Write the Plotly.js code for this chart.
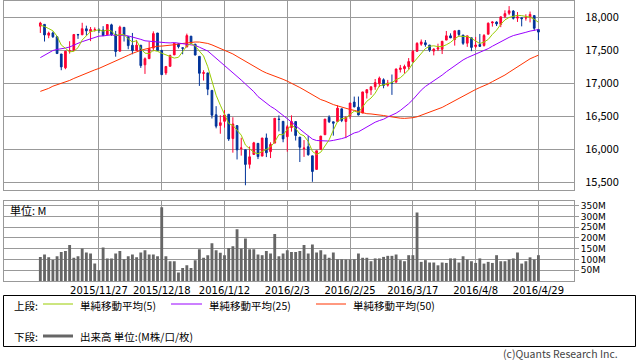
<!DOCTYPE html>
<html>
<head>
<meta charset="utf-8">
<script src="https://cdn.plot.ly/plotly-3.0.1.min.js"></script>
<style>
html,body{margin:0;padding:0;background:#fff;}
#chart{width:638px;height:362px;}
</style>
</head>
<body>
<div id="chart"></div>
<script>
// ---- data ----
const dates = [
"2015/11/6","2015/11/9","2015/11/10","2015/11/11","2015/11/12","2015/11/13","2015/11/16","2015/11/17","2015/11/18","2015/11/19",
"2015/11/20","2015/11/23","2015/11/24","2015/11/25","2015/11/27","2015/11/30","2015/12/1","2015/12/2","2015/12/3","2015/12/4",
"2015/12/7","2015/12/8","2015/12/9","2015/12/10","2015/12/11","2015/12/14","2015/12/15","2015/12/16","2015/12/17","2015/12/18",
"2015/12/21","2015/12/22","2015/12/23","2015/12/24","2015/12/28","2015/12/29","2015/12/30","2015/12/31","2016/1/4","2016/1/5",
"2016/1/6","2016/1/7","2016/1/8","2016/1/11","2016/1/12","2016/1/13","2016/1/14","2016/1/15","2016/1/19","2016/1/20",
"2016/1/21","2016/1/22","2016/1/25","2016/1/26","2016/1/27","2016/1/28","2016/1/29","2016/2/1","2016/2/2","2016/2/3",
"2016/2/4","2016/2/5","2016/2/8","2016/2/9","2016/2/10","2016/2/11","2016/2/12","2016/2/16","2016/2/17","2016/2/18",
"2016/2/19","2016/2/22","2016/2/23","2016/2/24","2016/2/25","2016/2/26","2016/2/29","2016/3/1","2016/3/2","2016/3/3",
"2016/3/4","2016/3/7","2016/3/8","2016/3/9","2016/3/10","2016/3/11","2016/3/14","2016/3/15","2016/3/16","2016/3/17",
"2016/3/18","2016/3/21","2016/3/22","2016/3/23","2016/3/24","2016/3/28","2016/3/29","2016/3/30","2016/3/31","2016/4/1",
"2016/4/4","2016/4/5","2016/4/6","2016/4/7","2016/4/8","2016/4/11","2016/4/12","2016/4/13","2016/4/14","2016/4/15",
"2016/4/18","2016/4/19","2016/4/20","2016/4/21","2016/4/22","2016/4/25","2016/4/26","2016/4/27","2016/4/28","2016/4/29"];

const openP = [
17863,17890,17726,17760,17702,17441,17231,17486,17495,17737,17732,17823,17783,17813,17806,17804,17734,17883,17736,17483,
17845,17703,17573,17493,17574,17277,17370,17530,17759,17496,17154,17254,17427,17593,17535,17547,17711,17590,17405,17147,
17154,16889,16520,16358,16420,16527,16159,16355,16009,15990,15768,15917,16086,15893,16168,15961,16090,16454,16420,16187,
16327,16416,16181,16005,16035,15897,15691,15994,16217,16483,16413,16417,16610,16418,16504,16712,16634,16545,16851,16896,
16945,16991,17050,16969,17006,17014,17207,17217,17249,17325,17481,17590,17611,17577,17485,17516,17512,17652,17716,17661,
17799,17728,17605,17687,17555,17586,17571,17741,17912,17925,17890,18012,18059,18092,17985,17990,17987,17996,18023,17813];
const highP = [
17929,17890,17780,17780,17710,17441,17490,17634,17740,17745,17914,17870,17850,17845,17830,17863,17895,17900,17791,17870,
17845,17703,17760,17654,17574,17389,17627,17784,17760,17496,17254,17431,17607,17606,17536,17750,17714,17590,17405,17195,
17154,16889,16650,16513,16591,16527,16482,16355,16171,15990,16038,16109,16086,16168,16235,16102,16466,16510,16420,16365,
16511,16423,16181,16136,16201,15897,15974,16200,16456,16511,16413,16664,16610,16485,16698,16795,16796,16865,16900,16945,
17062,17099,17072,17048,17130,17220,17275,17279,17379,17502,17620,17661,17652,17577,17526,17597,17638,17790,17754,17793,
17799,17728,17716,17687,17700,17745,17744,17918,17934,17937,18009,18103,18167,18107,18077,17990,18043,18084,18023,17814];
const lowP = [
17760,17630,17680,17685,17440,17195,17210,17447,17485,17670,17732,17720,17636,17780,17760,17720,17734,17718,17400,17483,
17630,17513,17437,17493,17230,17139,17370,17483,17490,17128,17124,17254,17427,17525,17437,17547,17601,17421,16957,17038,
16817,16463,16314,16232,16324,16123,15945,15842,15900,15451,15704,15917,15848,15893,15878,15863,16090,16268,16103,15960,
16264,16129,15803,15881,15899,15503,15691,15994,16217,16394,16203,16417,16408,16165,16458,16632,16510,16545,16766,16820,
16898,16940,16921,16947,16821,17014,17161,17145,17204,17325,17481,17565,17551,17473,17420,17485,17440,17652,17683,17568,
17704,17579,17549,17484,17528,17555,17553,17741,17856,17865,17848,17984,18031,17963,17927,17860,17947,17920,17796,17652];
const closeP = [
17910,17730,17758,17702,17448,17245,17483,17490,17737,17732,17824,17792,17813,17813,17798,17720,17888,17730,17478,17848,
17730,17568,17493,17575,17265,17369,17525,17750,17495,17128,17252,17418,17603,17552,17528,17720,17603,17425,17149,17158,
16907,16514,16347,16399,16517,16152,16380,15988,16016,15767,15882,16094,15886,16167,15944,16070,16466,16449,16154,16337,
16417,16205,16027,16014,15914,15660,15974,16196,16454,16414,16392,16620,16432,16485,16698,16640,16517,16866,16900,16944,
17007,17074,16964,17001,16996,17213,17229,17251,17326,17482,17602,17624,17583,17502,17516,17535,17634,17716,17685,17792,
17737,17603,17716,17541,17577,17556,17721,17908,17926,17897,18004,18053,18096,17982,18003,17977,17990,18041,17831,17773];

const sma5 = [
17877,17858,17826,17793,17710,17577,17527,17474,17481,17537,17653,17715,17780,17795,17808,17787,17806,17790,17723,17733,
17735,17671,17623,17643,17526,17454,17445,17497,17481,17453,17430,17409,17379,17391,17471,17564,17601,17566,17485,17411,
17248,17031,16815,16665,16537,16386,16359,16287,16211,16061,16007,15949,15929,15959,15995,16032,16107,16219,16217,16295,
16365,16312,16228,16200,16115,15964,15918,15952,16040,16140,16286,16415,16462,16469,16525,16575,16554,16641,16724,16773,
16847,16958,16978,16998,17008,17050,17081,17138,17203,17300,17378,17457,17523,17559,17565,17552,17554,17581,17617,17672,
17713,17707,17707,17678,17635,17599,17622,17661,17738,17802,17891,17958,17995,18006,18028,18022,18010,17999,17968,17922];
const sma25 = [
17386,17424,17463,17494,17510,17517,17531,17547,17580,17603,17628,17650,17674,17700,17712,17715,17726,17732,17720,17723,
17726,17715,17698,17687,17663,17641,17633,17633,17624,17612,17612,17609,17614,17606,17598,17594,17586,17571,17544,17519,
17486,17431,17376,17333,17280,17216,17169,17109,17046,16986,16927,16870,16795,16742,16695,16647,16609,16563,16507,16460,
16408,16352,16296,16250,16201,16151,16129,16123,16125,16121,16131,16140,16158,16177,16214,16244,16261,16300,16330,16370,
16407,16432,16452,16486,16512,16544,16585,16634,16687,16749,16827,16893,16949,16990,17035,17080,17121,17172,17220,17264,
17308,17351,17385,17411,17436,17458,17484,17522,17559,17595,17627,17659,17693,17720,17740,17755,17770,17788,17801,17812];
const sma50 = [
16874,16896,16920,16953,16975,16992,17020,17040,17070,17098,17126,17154,17178,17200,17222,17249,17277,17305,17329,17361,
17390,17421,17450,17476,17496,17514,17529,17548,17559,17561,17564,17570,17581,17593,17601,17611,17618,17623,17622,17615,
17601,17579,17554,17526,17501,17471,17442,17404,17367,17325,17284,17251,17214,17183,17153,17130,17109,17088,17057,17029,
17001,16969,16933,16897,16860,16818,16780,16750,16729,16700,16674,16655,16633,16612,16600,16586,16566,16548,16536,16532,
16527,16520,16508,16497,16486,16476,16468,16465,16468,16475,16489,16511,16536,16558,16578,16605,16631,16665,16699,16739,
16776,16806,16843,16870,16903,16933,16958,16987,17022,17054,17085,17122,17164,17203,17245,17291,17332,17368,17396,17423];

// volume, millions of shares
const volume = [
112,123,111,98,115,135,139,167,108,115,151,133,128,81,50,156,105,105,128,139,
101,115,123,110,133,143,123,123,115,343,115,92,92,39,61,73,61,97,148,108,
120,175,143,131,120,154,162,241,151,198,148,148,123,120,139,128,218,115,128,143,
135,135,139,167,128,170,133,143,123,108,133,101,101,100,100,101,128,108,108,92,
105,105,112,117,117,123,97,92,120,120,319,89,97,86,86,73,86,84,105,105,
86,115,100,92,84,105,81,89,84,120,92,92,100,105,133,81,92,110,100,120];

const tickDates = ["2015/11/27","2015/12/18","2016/1/12","2016/2/3","2016/2/25","2016/3/17","2016/4/8","2016/4/29"];
const priceTicks = [15500,16000,16500,17000,17500,18000];
const volTicks = [50,100,150,200,250,300,350];
const volTickText = ["50M","100M","150M","200M","250M","300M","350M"];

const legendItems = [
  {label:"単純移動平均(5)",  color:"#99cc00"},
  {label:"単純移動平均(25)", color:"#9900ff"},
  {label:"単純移動平均(50)", color:"#ff3300"}
];

// ---- layout helpers (pixel -> paper) ----
const W = 638, H = 362;
const px = v => v / W;
const py = v => 1 - v / H;

const FONT = "'Noto Sans CJK JP', 'Noto Sans', sans-serif";
const NUMFONT = "'DejaVu Sans', sans-serif";
const GRID = "#999999";
const xRange = [-8.8, 127.5];

const traces = [
  {
    type: "candlestick", x: dates, open: openP, high: highP, low: lowP, close: closeP,
    xaxis: "x", yaxis: "y",
    increasing: {line: {color: "#ff0033", width: 1}, fillcolor: "#ff0033"},
    decreasing: {line: {color: "#003399", width: 1}, fillcolor: "#003399"},
    whiskerwidth: 0, hoverinfo: "skip", showlegend: false
  },
  {type: "scatter", mode: "lines", x: dates, y: sma50, xaxis: "x", yaxis: "y",
   line: {color: "#ff3300", width: 1}, hoverinfo: "skip", showlegend: false},
  {type: "scatter", mode: "lines", x: dates, y: sma25, xaxis: "x", yaxis: "y",
   line: {color: "#9900ff", width: 1}, hoverinfo: "skip", showlegend: false},
  {type: "scatter", mode: "lines", x: dates, y: sma5, xaxis: "x", yaxis: "y",
   line: {color: "#99cc00", width: 1}, hoverinfo: "skip", showlegend: false},
  {type: "bar", x: dates, y: volume, xaxis: "x2", yaxis: "y2",
   marker: {color: "#666666", line: {width: 0}}, width: 0.68,
   hoverinfo: "skip", showlegend: false}
];

const annotations = [];
const shapes = [];

// legend box
shapes.push({type: "rect", xref: "paper", yref: "paper",
  x0: px(3.5), x1: px(635.5), y0: py(346.5), y1: py(295.5),
  line: {color: "#000", width: 1}, fillcolor: "rgba(0,0,0,0)"});

const rowTop = 305, rowBot = 336;
const LEGSIZE = 10.5;
annotations.push({xref: "paper", yref: "paper", x: px(12), y: py(rowTop), xanchor: "left", yanchor: "middle",
  text: "上段:", showarrow: false, font: {family: FONT, size: LEGSIZE, color: "#000"}});
const lineX = [[43, 73], [171, 202], [316, 346]];
const textX = [78, 207, 351];
legendItems.forEach((it, k) => {
  shapes.push({type: "line", xref: "paper", yref: "paper",
    x0: px(lineX[k][0]), x1: px(lineX[k][1]), y0: py(rowTop - 1), y1: py(rowTop - 1),
    line: {color: it.color, width: 1}});
  annotations.push({xref: "paper", yref: "paper", x: px(textX[k]), y: py(rowTop),
    xanchor: "left", yanchor: "middle", text: it.label, showarrow: false,
    font: {family: FONT, size: LEGSIZE, color: "#000"}});
});
annotations.push({xref: "paper", yref: "paper", x: px(12), y: py(rowBot), xanchor: "left", yanchor: "middle",
  text: "下段:", showarrow: false, font: {family: FONT, size: LEGSIZE, color: "#000"}});
shapes.push({type: "line", xref: "paper", yref: "paper",
  x0: px(43), x1: px(73), y0: py(rowBot), y1: py(rowBot), line: {color: "#666666", width: 3}});
annotations.push({xref: "paper", yref: "paper", x: px(78), y: py(rowBot), xanchor: "left", yanchor: "middle",
  text: "出来高 単位:(M株/口/枚)", showarrow: false, font: {family: FONT, size: LEGSIZE, color: "#000"}});

// volume unit label
annotations.push({xref: "paper", yref: "paper", x: px(8), y: py(210), xanchor: "left", yanchor: "middle",
  text: "単位: M", showarrow: false, font: {family: FONT, size: 11, color: "#000"}});

// copyright
annotations.push({xref: "paper", yref: "paper", x: px(620), y: py(353), xanchor: "right", yanchor: "middle",
  text: "(c)Quants Research Inc.", showarrow: false, font: {family: FONT, size: 10.5, color: "#444"}});

const xDom = [px(3.5), px(574)];

const layout = {
  width: W, height: H,
  margin: {l: 0, r: 0, t: 0, b: 0, pad: 0},
  paper_bgcolor: "#fff", plot_bgcolor: "#fff",
  showlegend: false,
  boxgap: 0.42,
  bargap: 0.3,
  font: {family: FONT, size: 11, color: "#000"},
  xaxis: {
    type: "category", categoryorder: "array", categoryarray: dates,
    domain: xDom, anchor: "y", range: xRange,
    tickmode: "array", tickvals: tickDates, showticklabels: false, ticks: "",
    showgrid: true, gridcolor: GRID, gridwidth: 1,
    showline: true, linecolor: GRID, linewidth: 1, mirror: true,
    zeroline: false, rangeslider: {visible: false}, fixedrange: true
  },
  yaxis: {
    domain: [py(190), py(0.5)], anchor: "x", side: "right",
    range: [15379, 18252],
    tickmode: "array", tickvals: priceTicks, tickformat: ",d",
    ticks: "outside", ticklen: 8, tickcolor: "rgba(0,0,0,0)",
    tickfont: {family: FONT, size: 11, color: "#000"},
    showgrid: true, gridcolor: GRID, gridwidth: 1,
    showline: true, linecolor: GRID, linewidth: 1, mirror: true,
    zeroline: false, fixedrange: true
  },
  xaxis2: {
    type: "category", categoryorder: "array", categoryarray: dates,
    domain: xDom, anchor: "y2", range: xRange,
    tickmode: "array", tickvals: tickDates, ticktext: tickDates,
    ticks: "", tickangle: 0,
    tickfont: {family: NUMFONT, size: 10, color: "#000"},
    showgrid: true, gridcolor: GRID, gridwidth: 1,
    showline: true, linecolor: GRID, linewidth: 1, mirror: true,
    zeroline: false, fixedrange: true
  },
  yaxis2: {
    domain: [py(281), py(201)], anchor: "x2", side: "right",
    range: [0, 372],
    tickmode: "array", tickvals: volTicks, ticktext: volTickText,
    ticks: "outside", ticklen: 4, tickcolor: GRID,
    tickfont: {family: NUMFONT, size: 9, color: "#000"},
    showgrid: true, gridcolor: GRID, gridwidth: 1,
    showline: true, linecolor: GRID, linewidth: 1, mirror: true,
    zeroline: false, fixedrange: true
  },
  annotations: annotations,
  shapes: shapes
};

Plotly.newPlot("chart", traces, layout, {staticPlot: true, displayModeBar: false});
</script>
</body>
</html>
